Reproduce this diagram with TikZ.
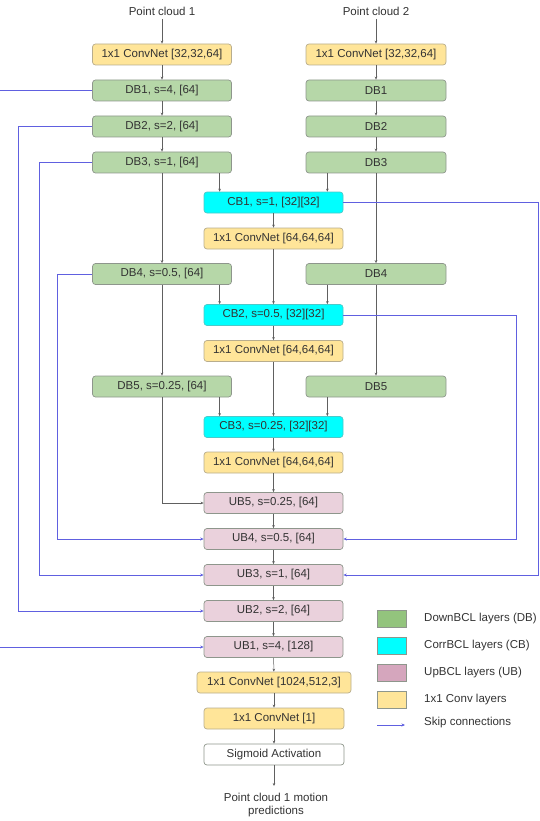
\documentclass[tikz,border=0pt]{standalone}
\usepackage{fontspec}
\setmainfont{Liberation Sans}
\usetikzlibrary{arrows.meta,calc}
\definecolor{dbfill}{HTML}{B6D7A8}
\definecolor{cbfill}{HTML}{00FFFF}
\definecolor{ubfill}{HTML}{EAD1DC}
\definecolor{cvfill}{HTML}{FFE599}
\definecolor{lgdb}{HTML}{93C47D}
\definecolor{lgub}{HTML}{D5A6BD}
\definecolor{skipc}{HTML}{6060E0}
\definecolor{txt}{HTML}{333333}
\definecolor{edge}{HTML}{8E968C}
\begin{document}
\begin{tikzpicture}[x=1pt,y=-1pt,
  font=\fontsize{11.5}{13}\selectfont, text=txt,
  blk/.style={draw=edge, line width=0.7pt, rounded corners=3pt, minimum height=21pt, minimum width=139pt, inner sep=0pt, align=center},
  dbbox/.style={blk, fill=dbfill},
  cbbox/.style={blk, fill=cbfill, draw=cbfill!70!black!70},
  ubbox/.style={blk, fill=ubfill},
  cvbox/.style={blk, fill=cvfill, draw=cvfill!60!black!70},
  sgbox/.style={blk, fill=white},
  arr/.style={draw=gray!75!black, line width=0.5pt, -{Stealth[length=3pt,width=2.6pt]}},
  skipline/.style={draw=skipc, line width=0.8pt},
  skiparr/.style={skipline, -{Stealth[length=3.5pt,width=3pt]}},
  lgsq/.style={draw=edge, line width=0.6pt, minimum width=29pt, minimum height=17pt, inner sep=0pt},
  lgtxt/.style={anchor=west, inner sep=0pt}
]
\useasboundingbox (0,0) rectangle (540,821);

% inputs
\node (pc1) at (162,11) {Point cloud 1};
\node (pc2) at (376,11) {Point cloud 2};

% left branch
\node[cvbox] (lc0) at (162,54.5) {1x1 ConvNet [32,32,64]};
\node[dbbox] (ldb1) at (162,90.5) {DB1, s=4, [64]};
\node[dbbox] (ldb2) at (162,126.5) {DB2, s=2, [64]};
\node[dbbox] (ldb3) at (162,162.5) {DB3, s=1, [64]};
\node[dbbox] (ldb4) at (162,274) {DB4, s=0.5, [64]};
\node[dbbox] (ldb5) at (162,386.5) {DB5, s=0.25, [64]};

% right branch
\node[cvbox, minimum width=140pt] (rc0) at (376,54.5) {1x1 ConvNet [32,32,64]};
\node[dbbox, minimum width=140pt] (rdb1) at (376,90.5) {DB1};
\node[dbbox, minimum width=140pt] (rdb2) at (376,126.5) {DB2};
\node[dbbox, minimum width=140pt] (rdb3) at (376,162.5) {DB3};
\node[dbbox, minimum width=140pt] (rdb4) at (376,274) {DB4};
\node[dbbox, minimum width=140pt] (rdb5) at (376,386.5) {DB5};

% center column
\node[cbbox] (cb1) at (273.5,202.5) {CB1, s=1, [32][32]};
\node[cvbox] (cc1) at (273.5,238.5) {1x1 ConvNet [64,64,64]};
\node[cbbox] (cb2) at (273.5,315) {CB2, s=0.5, [32][32]};
\node[cvbox] (cc2) at (273.5,351) {1x1 ConvNet [64,64,64]};
\node[cbbox] (cb3) at (273.5,427) {CB3, s=0.25, [32][32]};
\node[cvbox] (cc3) at (273.5,462.5) {1x1 ConvNet [64,64,64]};
\node[ubbox] (ub5) at (273.5,503) {UB5, s=0.25, [64]};
\node[ubbox] (ub4) at (273.5,539) {UB4, s=0.5, [64]};
\node[ubbox] (ub3) at (273.5,575) {UB3, s=1, [64]};
\node[ubbox] (ub2) at (273.5,611) {UB2, s=2, [64]};
\node[ubbox] (ub1) at (273.5,647) {UB1, s=4, [128]};
\node[cvbox, minimum width=154pt] (cf1) at (274,682.5) {1x1 ConvNet [1024,512,3]};
\node[cvbox, minimum width=140pt] (cf2) at (274,718.5) {1x1 ConvNet [1]};
\node[sgbox, minimum width=140pt] (sig) at (274,754.5) {Sigmoid Activation};
\node[align=center, inner sep=1pt] (out) at (276,805.5) {Point cloud 1 motion\\predictions};
\coordinate (outtop) at (274,786);

% left chain
\draw[arr] (pc1) -- (lc0);
\draw[arr] (lc0) -- (ldb1);
\draw[arr] (ldb1) -- (ldb2);
\draw[arr] (ldb2) -- (ldb3);
\draw[arr] (ldb3) -- (ldb4);
\draw[arr] (ldb4) -- (ldb5);
\draw[arr] (ldb5.south) |- (ub5.west);

% right chain
\draw[arr] (pc2) -- (rc0);
\draw[arr] (rc0) -- (rdb1);
\draw[arr] (rdb1) -- (rdb2);
\draw[arr] (rdb2) -- (rdb3);
\draw[arr] (rdb3) -- (rdb4);
\draw[arr] (rdb4) -- (rdb5);

% into correlation blocks
\draw[arr] ([xshift=16pt]cb1.north west |- ldb3.south) -- ([xshift=16pt]cb1.north west);
\draw[arr] ([xshift=-16pt]cb1.north east |- rdb3.south) -- ([xshift=-16pt]cb1.north east);
\draw[arr] ([xshift=16pt]cb2.north west |- ldb4.south) -- ([xshift=16pt]cb2.north west);
\draw[arr] ([xshift=-16pt]cb2.north east |- rdb4.south) -- ([xshift=-16pt]cb2.north east);
\draw[arr] ([xshift=16pt]cb3.north west |- ldb5.south) -- ([xshift=16pt]cb3.north west);
\draw[arr] ([xshift=-16pt]cb3.north east |- rdb5.south) -- ([xshift=-16pt]cb3.north east);

% center chain
\draw[arr] (cb1) -- (cc1);
\draw[arr] (cc1) -- (cb2);
\draw[arr] (cb2) -- (cc2);
\draw[arr] (cc2) -- (cb3);
\draw[arr] (cb3) -- (cc3);
\draw[arr] (cc3) -- (ub5);
\draw[arr] (ub5) -- (ub4);
\draw[arr] (ub4) -- (ub3);
\draw[arr] (ub3) -- (ub2);
\draw[arr] (ub2) -- (ub1);
\draw[arr] (ub1) -- (cf1);
\draw[arr] (cf1) -- (cf2);
\draw[arr] (cf2) -- (sig);
\draw[arr] (sig) -- (outtop);

% skip connections
\coordinate (s1a) at (0,90.5);
\coordinate (s1b) at (0,647);
\draw[skipline] (ldb1.west) -- (s1a);
\draw[skiparr] (s1b) -- (ub1.west);
\draw[skiparr] (ldb2.west) -- ++(-73.5,0) |- (ub2.west);
\draw[skiparr] (ldb3.west) -- ++(-52.5,0) |- (ub3.west);
\draw[skiparr] (ldb4.west) -- ++(-34.5,0) |- (ub4.west);
\draw[skiparr] (cb1.east) -- ++(195,0) |- (ub3.east);
\draw[skiparr] (cb2.east) -- ++(173,0) |- (ub4.east);

% legend
\node[lgsq, fill=lgdb] (lg1) at (391.5,619) {};
\node[lgsq, fill=cbfill] (lg2) at (391.5,645.5) {};
\node[lgsq, fill=lgub] (lg3) at (391.5,673) {};
\node[lgsq, fill=cvfill] (lg4) at (391.5,700) {};
\coordinate (lg5a) at (377,725);
\coordinate (lg5b) at (405,725);
\draw[skiparr, line width=0.6pt] (lg5a) -- (lg5b);
\node[lgtxt] (lt1) at (424,619) {DownBCL layers (DB)};
\node[lgtxt] (lt2) at (424,645.5) {CorrBCL layers (CB)};
\node[lgtxt] (lt3) at (424,673) {UpBCL layers (UB)};
\node[lgtxt] (lt4) at (424,700) {1x1 Conv layers};
\node[lgtxt] (lt5) at (424,723) {Skip connections};
\end{tikzpicture}
\end{document}
